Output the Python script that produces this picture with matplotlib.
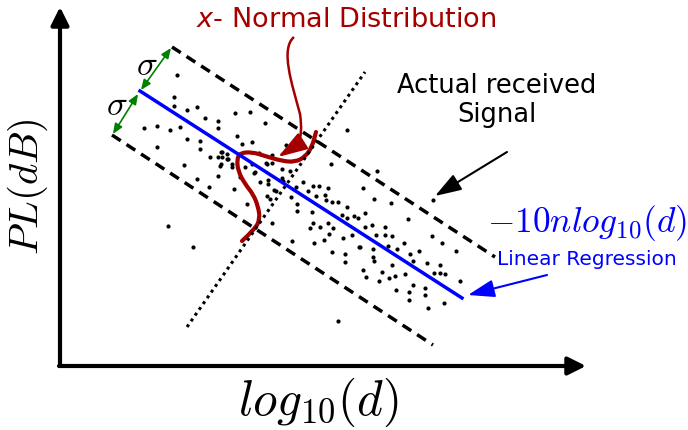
import numpy as np
import matplotlib
matplotlib.use('Agg')
import matplotlib.pyplot as plt
from matplotlib.patches import FancyArrowPatch, PathPatch
from matplotlib.path import Path

plt.rcParams['mathtext.fontset'] = 'cm'
plt.rcParams['font.family'] = 'DejaVu Sans'

# received signal samples (pixel-like units, y grows downwards)
sig_x = [177, 174, 174, 187, 197, 205, 218, 218, 144, 157, 170, 180, 187, 200, 200, 157,
         210, 218, 222, 227, 228, 221, 184,
         235, 250, 265, 237, 242, 252, 286, 259, 272, 267, 272, 282, 290, 347, 331, 232,
         245, 255,
         221, 222, 227, 232, 220, 218, 266, 252, 254, 240, 197, 209, 168, 193,
         234, 247, 260, 268, 268, 282, 267, 274, 291, 303, 296, 308, 313, 319, 328, 316,
         325, 326, 332, 338, 347, 297, 297, 312, 342, 347, 354, 358, 313, 310, 320, 328,
         333, 329, 324, 314, 292, 272, 343, 352, 332, 345, 345, 359, 338, 283, 276, 270,
         377, 363, 374, 391, 365, 408, 433, 365, 372, 385, 376, 385, 392, 404, 432, 442,
         360, 373, 373, 374, 388, 397, 410, 419, 413, 456, 427, 440, 392, 363, 366, 382,
         389, 395, 405, 434, 440, 445, 379, 413, 396, 409, 425, 425, 409, 428, 444, 460]
sig_y = [76, 98, 107, 111, 108, 119, 122, 129, 129, 127, 131, 128, 140, 142, 150, 148,
         158, 158, 153, 155, 160, 165, 166,
         114, 113, 124, 137, 145, 143, 146, 154, 156, 165, 164, 170, 172, 131, 165, 165,
         168, 173,
         153, 158, 160, 168, 167, 177, 164, 165, 174, 178, 180, 188, 227, 248,
         190, 205, 183, 181, 185, 179, 197, 191, 198, 183, 188, 192, 187, 187, 189, 197,
         196, 201, 203, 203, 208, 205, 212, 213, 216, 219, 217, 219, 224, 229, 228, 224,
         229, 235, 241, 244, 242, 224, 239, 236, 253, 255, 263, 248, 322, 182, 192, 200,
         172, 189, 200, 204, 214, 220, 201, 228, 226, 228, 236, 236, 237, 244, 237, 244,
         248, 250, 258, 262, 247, 250, 255, 252, 262, 252, 264, 266, 266, 271, 278, 273,
         279, 277, 275, 274, 274, 275, 282, 286, 291, 293, 289, 296, 301, 309, 304, 282]

# straight lines of the sketch
reg_x, reg_y = [140, 462], [92, 299]        # linear regression
up_x, up_y = [172, 495], [48, 258]          # +sigma
lo_x, lo_y = [112, 433], [136, 346]         # -sigma
perp_x, perp_y = [187, 365], [328, 73]      # dotted cut

# normal curve drawn across the regression line
pdf_x = [242, 255, 260, 258, 253, 245, 238, 237, 240, 252, 265, 282, 295, 305, 312, 316]
pdf_y = [242, 230, 220, 207, 195, 185, 172, 160, 154, 153, 157, 162, 163, 158, 148, 133]

RED = '#a50000'

fig = plt.figure(figsize=(6.88, 4.31), dpi=100)
ax = fig.add_axes([0, 0, 1, 1])
ax.set_xlim(0, 688)
ax.set_ylim(431, 0)
ax.axis('off')

def arrow(p0, p1, color='black', lw=1.5, style='-|>,head_length=0.9,head_width=0.3', ms=18):
    a = FancyArrowPatch(p0, p1, arrowstyle=style, mutation_scale=ms, color=color,
                        lw=lw, shrinkA=0, shrinkB=0)
    ax.add_patch(a)

# axes
arrow((60, 367), (60, 8), lw=3, style='-|>,head_length=0.6,head_width=0.3')
arrow((59, 367), (586, 367), lw=3, style='-|>,head_length=0.6,head_width=0.3')

ax.scatter(sig_x, sig_y, s=9, color='black', lw=0)

ax.plot(up_x, up_y, color='black', lw=2.5, ls=(0, (3, 2)))
ax.plot(lo_x, lo_y, color='black', lw=2.5, ls=(0, (3, 2)))
ax.plot(perp_x, perp_y, color='black', lw=2.2, ls=(0, (1, 1.3)))
ax.plot(reg_x, reg_y, color='blue', lw=2.5)

# smooth red curve (quadratic pieces through midpoints)
pts = list(zip(pdf_x, pdf_y))
verts = [pts[0]]
codes = [Path.MOVETO]
for i in range(1, len(pts) - 1):
    mid = ((pts[i][0] + pts[i + 1][0]) / 2, (pts[i][1] + pts[i + 1][1]) / 2)
    verts += [pts[i], mid]
    codes += [Path.CURVE3, Path.CURVE3]
verts.append(pts[-1])
codes.append(Path.LINETO)
ax.add_patch(PathPatch(Path(verts, codes), fc='none', ec=RED, lw=3, capstyle='round'))

# curly red arrow from the title
rp = Path([(294, 38), (280, 50), (292, 85), (300, 115), (303, 135), (298, 145)],
          [Path.MOVETO, Path.CURVE4, Path.CURVE4, Path.CURVE4, Path.CURVE3, Path.CURVE3])
ax.add_patch(PathPatch(rp, fc='none', ec=RED, lw=1.8))
arrow((300, 144), (278, 158), color=RED, lw=1.8,
      style='-|>,head_length=1.0,head_width=0.32', ms=18)

# sigma arrows
arrow((171, 49), (141, 91), color='green', lw=1.2,
      style='<|-|>,head_length=0.6,head_width=0.25', ms=10)
arrow((138, 95), (113, 135), color='green', lw=1.2,
      style='<|-|>,head_length=0.6,head_width=0.25', ms=10)
ax.text(147, 65, r'$\sigma$', fontsize=25, ha='center', va='center')
ax.text(117, 105, r'$\sigma$', fontsize=25, ha='center', va='center')

# pointers
arrow((507, 153), (435, 197))
arrow((547, 276), (468, 296), color='blue')

# texts
ax.text(346, 27, r'$x$- Normal Distribution', color=RED, fontsize=19.5, ha='center',
        va='baseline', math_fontfamily='dejavusans')
ax.text(497, 93, 'Actual received', fontsize=18.5, ha='center', va='baseline')
ax.text(497, 122, 'Signal', fontsize=18.5, ha='center', va='baseline')
ax.text(587, 232, r'$-10nlog_{10}(d)$', color='blue', fontsize=25.5, ha='center',
        va='baseline')
ax.text(587, 265, 'Linear Regression', color='blue', fontsize=14.5, ha='center',
        va='baseline')
ax.text(318, 415, r'$log_{10}(d)$', fontsize=35.5, ha='center', va='baseline')
ax.text(28, 187, r'$PL(dB)$', fontsize=29.5, ha='center', va='center', rotation=90)

fig.savefig('out.png', dpi=100)
